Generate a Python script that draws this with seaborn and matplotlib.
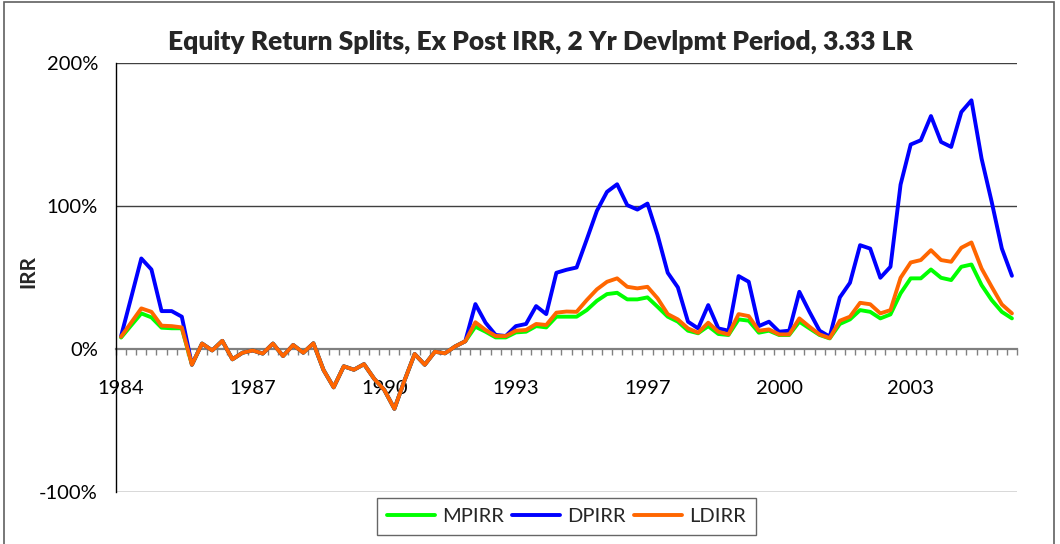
import numpy as np
import pandas as pd
import matplotlib
matplotlib.use("Agg")
import matplotlib.pyplot as plt
import seaborn as sns
from matplotlib.lines import Line2D
from matplotlib.patches import Rectangle
from matplotlib.ticker import PercentFormatter, FixedLocator

sns.set_theme(style="white")
plt.rcParams['font.family'] = ['Lato', 'DejaVu Sans']
plt.rcParams['axes.unicode_minus'] = False

# Quarterly IRR (%) from 1984 Q1 to 2006 Q1
series_names = ["MPIRR", "DPIRR", "LDIRR"]
series_colors = ["#00FF00", "#0000FF", "#FF6600"]
year_labels = ["1984", "1987", "1990", "1993", "1997", "2000", "2003"]
label_step = 13

mpirr = [8.0, 16.5, 24.9, 22.1, 14.9, 14.5, 14.5,
         -11.0, 3.8, -1.0, 5.7, -7.2, -2.6, -1.0, -3.2, 3.8, -4.9, 2.8, -2.6, 4.0,
         -14.7, -26.8, -12.1, -14.5, -10.6, -20.8, -28.6, -41.8, -22.0, -3.5,
         -11.0, -1.9, -3.0, 1.8, 5.4,
         15.6, 12.1, 8.1, 8.1, 11.6, 12.1, 16.0, 15.1, 22.6, 22.6,
         22.6, 27.2, 33.7, 38.4, 39.3, 34.7, 34.7, 36.1, 29.5, 22.6,
         19.1, 12.8, 11.0, 16.0, 10.5, 9.8, 20.7, 19.8, 11.4, 12.8,
         9.8, 9.8, 19.1, 14.4, 9.8, 7.4, 17.5, 20.7, 27.2, 26.0,
         21.4, 24.2, 38.9, 49.4, 49.4, 55.6, 49.8, 48.2, 57.5, 59.1,
         44.7, 34.2, 26.0, 21.4]

dpirr = [9.0, 36.0, 63.3, 55.6, 26.5, 26.5, 22.6,
         -11.0, 3.8, -1.0, 5.7, -7.2, -2.6, -1.0, -3.2, 3.8, -4.9, 2.8, -2.6, 4.0,
         -14.7, -26.8, -12.1, -14.5, -10.6, -20.8, -28.6, -41.8, -22.0, -3.5,
         -11.0, -1.9, -3.0, 1.8, 5.4,
         31.4, 18.4, 9.8, 9.1, 16.0, 17.5, 30.0, 24.4, 53.3, 55.4,
         57.0, 76.6, 96.6, 109.9, 115.2, 100.6, 97.5, 101.7, 79.6, 53.3,
         43.1, 19.1, 14.4, 30.7, 14.4, 12.8, 51.0, 47.0, 16.0, 19.1,
         12.1, 12.8, 40.0, 26.0, 12.8, 8.6, 36.1, 46.3, 72.6, 70.2,
         49.8, 57.5, 115.0, 143.0, 146.0, 162.9, 144.8, 141.3, 165.7, 173.9,
         133.2, 102.9, 70.3, 51.2]

ldirr = [8.6, 18.5, 28.4, 26.0, 16.3, 16.0, 15.1,
         -11.0, 3.8, -1.0, 5.7, -7.2, -2.6, -1.0, -3.2, 3.8, -4.9, 2.8, -2.6, 4.0,
         -14.7, -26.8, -12.1, -14.5, -10.6, -20.8, -28.6, -41.8, -22.0, -3.5,
         -11.0, -1.9, -3.0, 1.8, 5.4,
         18.7, 13.3, 9.1, 9.0, 12.8, 13.3, 17.5, 16.8, 25.4, 26.2,
         26.0, 34.2, 41.7, 47.0, 49.4, 43.5, 42.4, 43.5, 35.4, 24.4,
         20.7, 14.4, 11.4, 18.4, 12.1, 10.2, 24.4, 23.0, 12.8, 13.7,
         10.2, 10.2, 21.4, 15.6, 10.2, 7.6, 19.8, 22.6, 32.3, 31.3,
         24.9, 27.2, 49.8, 60.5, 62.2, 69.1, 62.2, 61.0, 70.8, 74.5,
         56.3, 43.5, 31.2, 24.9]

n = len(mpirr)
df = pd.DataFrame({
    "quarter": np.tile(np.arange(n), 3),
    "irr": mpirr + dpirr + ldirr,
    "series": np.repeat(series_names, n),
})

W, H = 1060, 544
fig = plt.figure(figsize=(W / 100, H / 100), dpi=100)
ax = fig.add_axes([116 / W, 1 - 492 / H, (1017 - 116) / W, (492 - 63) / H])

palette = dict(zip(series_names, series_colors))
sns.lineplot(data=df, x="quarter", y="irr", hue="series", hue_order=series_names,
             palette=palette, linewidth=2.8, ax=ax, legend=False, zorder=3)

ax.set_xlim(-0.5, n - 0.5)
ax.set_ylim(-100, 200)
ax.set_xlabel("")
ax.set_ylabel("")

# value axis
ax.yaxis.set_major_locator(FixedLocator([-100, 0, 100, 200]))
ax.yaxis.set_major_formatter(PercentFormatter(decimals=0))
ax.tick_params(axis="y", direction="out", length=5, width=1, color="black",
               labelsize=14.5, pad=8, labelcolor="black")
ax.set_axisbelow(True)
for yv in [-100, 100, 200]:
    ax.axhline(yv, color="#404040", lw=1, zorder=1)

# category axis crossing at zero
ax.spines["top"].set_visible(False)
ax.spines["right"].set_visible(False)
ax.spines["left"].set_color("black")
ax.spines["left"].set_linewidth(1)
ax.spines["bottom"].set_position(("data", 0))
ax.spines["bottom"].set_color("#808080")
ax.spines["bottom"].set_linewidth(1.6)
ax.spines["bottom"].set_zorder(2)

ax.xaxis.set_major_locator(FixedLocator([i * label_step for i in range(len(year_labels))]))
ax.set_xticklabels(year_labels)
ax.xaxis.set_minor_locator(FixedLocator(np.arange(-0.5, n, 1.0)))
ax.tick_params(axis="x", which="major", length=0, pad=22, labelsize=14.5, labelcolor="black")
ax.tick_params(axis="x", which="minor", direction="out", length=4, width=1,
               color="#808080", bottom=True)

fig.text(28 / W, 1 - 271 / H, "IRR", rotation=90, ha="center", va="center",
         fontsize=15, fontweight="bold")
fig.text(540 / W, 1 - 42 / H, "Equity Return Splits, Ex Post IRR, 2 Yr Devlpmt Period, 3.33 LR",
         ha="center", va="center", fontsize=19, fontweight="heavy")

handles = [Line2D([0], [0], color=c, lw=2.8) for c in series_colors]
leg = fig.legend(handles, series_names, loc="center", bbox_to_anchor=(566.5 / W, 1 - 516.5 / H),
                 ncol=3, frameon=True, fancybox=False, fontsize=14.5, handlelength=2.4,
                 handletextpad=0.35, columnspacing=0.4, borderpad=0.5)
leg.get_frame().set_edgecolor("#404040")
leg.get_frame().set_linewidth(1)

fig.patches.append(Rectangle((4 / W, -0.01), (1054 - 4) / W, 1.0 - 2 / H + 0.01,
                             transform=fig.transFigure, fill=False,
                             edgecolor="#606060", lw=1.2))

fig.savefig("out.png", dpi=100)
